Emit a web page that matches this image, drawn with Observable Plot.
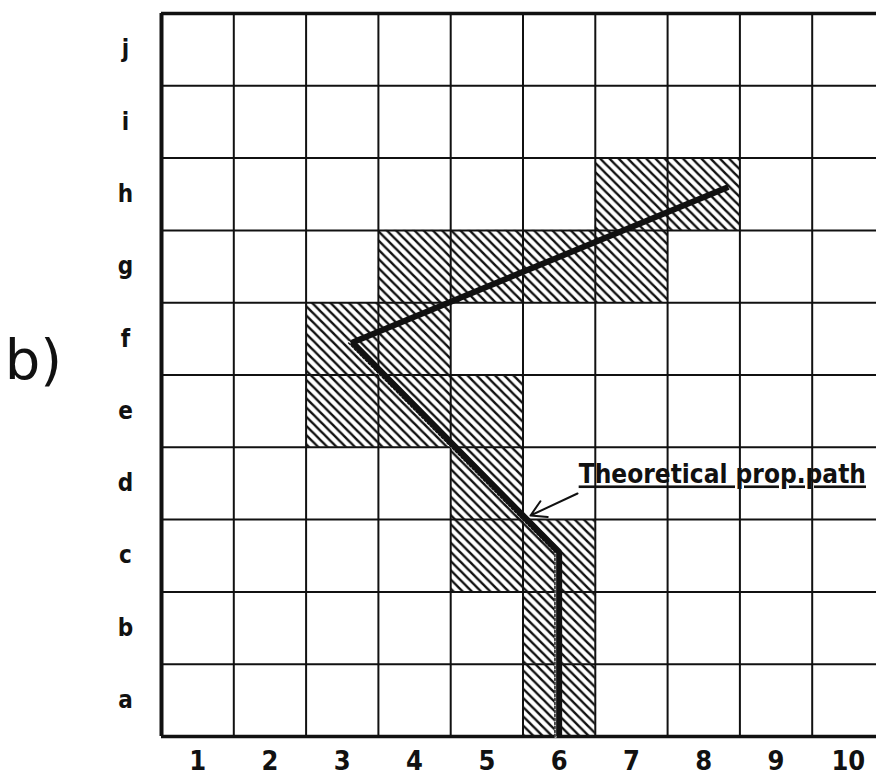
<!DOCTYPE html>
<html>
<head>
<meta charset="utf-8">
<script src="https://cdn.jsdelivr.net/npm/d3@7"></script>
<script src="https://cdn.jsdelivr.net/npm/@observablehq/plot@0.6"></script>
<style>
  html, body { margin: 0; padding: 0; background: #fff; overflow: hidden; }
  #chart svg { overflow: visible; }
</style>
</head>
<body>
<div id="chart"></div>
<script>
// ---- data ----
const rowLabels = ["a", "b", "c", "d", "e", "f", "g", "h", "i", "j"];
const colLabels = [1, 2, 3, 4, 5, 6, 7, 8, 9, 10];

// hatched cells (row letter, column number)
const hatchRow = ["a", "b", "c", "c", "d", "e", "e", "e", "f", "f", "g", "g", "g", "g", "h", "h"];
const hatchCol = [6, 6, 5, 6, 5, 3, 4, 5, 3, 4, 4, 5, 6, 7, 7, 8];

// actual path (x = column, y = row index with a = 1)
const pathX = [6.0, 6.0, 3.14, 8.34];
const pathY = [0.5, 3.05, 5.95, 8.10];

// theoretical path (lower part, drawn as dotted trace)
const theoX = [6.0, 6.0, 3.14];
const theoY = [0.5, 3.05, 5.95];

// annotation
const annotText = "Theoretical prop.path";
const annotX = [6.27];
const annotY = [4.0];
const arrowFrom = [6.254, 3.861];
const arrowTo = [5.604, 3.557];
const panelLabel = "b)";
const panelX = [-1.27];
const panelY = [5.69];

// ---- derived tables ----
const cells = hatchRow.map((r, i) => ({row: rowLabels.indexOf(r) + 1, col: hatchCol[i]}));
const pathPts = pathX.map((x, i) => ({x, y: pathY[i]}));
const theoPts = theoX.map((x, i) => ({x, y: theoY[i]}));
const vLines = colLabels.map(c => c - 0.5).concat([colLabels.length + 0.5]);
const hLines = rowLabels.map((r, i) => i + 0.5).concat([rowLabels.length + 0.5]);

const ink = "#111";
const font = "DejaVu Sans Condensed, DejaVu Sans, sans-serif";

const svg = Plot.plot({
  width: 876,
  height: 778,
  marginTop: 13,
  marginBottom: 42,
  marginLeft: 161,
  marginRight: 0,
  style: {fontFamily: font, background: "#fff", color: ink},
  x: {domain: [0.5, 10.5], range: [161, 884], axis: null},
  y: {domain: [0.5, 10.5], range: [736, 13], axis: null},
  marks: [
    Plot.rect(cells, {
      x1: d => d.col - 0.5, x2: d => d.col + 0.5,
      y1: d => d.row - 0.5, y2: d => d.row + 0.5,
      fill: "url(#hatch)"
    }),
    // inner grid
    Plot.ruleX(vLines, {y1: 0.5, y2: 10.5, stroke: ink, strokeWidth: 2}),
    Plot.ruleY(hLines, {x1: 0.5, x2: 10.5, stroke: ink, strokeWidth: 2}),
    // heavier outer frame (left, top, bottom)
    Plot.ruleX([vLines[0]], {y1: 0.5, y2: 10.5, stroke: ink, strokeWidth: 4}),
    Plot.ruleY([hLines[0], hLines[hLines.length - 1]], {x1: 0.5, x2: 10.5, stroke: ink, strokeWidth: 3.5}),
    // theoretical path: thin dotted trace beside the actual path
    Plot.line(theoPts, {x: "x", y: "y", stroke: "#fff", strokeWidth: 2.6, dx: -3.6, strokeLinejoin: "miter"}),
    Plot.line(theoPts, {x: "x", y: "y", stroke: ink, strokeWidth: 1.5, strokeDasharray: "2.2,1.8", dx: -4.2, strokeLinejoin: "miter"}),
    // actual path
    Plot.line(pathPts, {x: "x", y: "y", stroke: ink, strokeWidth: 6, strokeLinejoin: "miter", strokeLinecap: "butt"}),
    // annotation
    Plot.arrow([0], {
      x1: () => arrowFrom[0], y1: () => arrowFrom[1],
      x2: () => arrowTo[0], y2: () => arrowTo[1],
      stroke: ink, strokeWidth: 2, headLength: 14, bend: 0
    }),
    Plot.text([annotText], {
      x: () => annotX[0], y: () => annotY[0], text: d => d,
      textAnchor: "start", lineAnchor: "bottom", fontSize: 26, fontWeight: "bold",
      fill: ink, fontFamily: font
    }),
    Plot.text([panelLabel], {
      x: () => panelX[0], y: () => panelY[0], text: d => d,
      textAnchor: "middle", lineAnchor: "middle", fontSize: 56, fontWeight: "normal",
      fill: ink, fontFamily: "DejaVu Sans, sans-serif"
    }),
    // axes
    Plot.axisX({
      ticks: colLabels, tickSize: 0, tickPadding: 14, anchor: "bottom",
      fontSize: 27, fontWeight: "bold", fill: ink, label: null, tickFormat: d => String(d)
    }),
    Plot.axisY({
      ticks: rowLabels.map((r, i) => i + 1), tickSize: 0, tickPadding: 36, anchor: "left",
      textAnchor: "middle", fontSize: 24, fontWeight: "bold", fill: ink, label: null,
      tickFormat: d => rowLabels[d - 1]
    })
  ]
});

// hatch pattern
const defs = d3.select(svg).insert("defs", ":first-child");
const pat = defs.append("pattern")
  .attr("id", "hatch")
  .attr("patternUnits", "userSpaceOnUse")
  .attr("width", 9.2).attr("height", 9.2);
pat.append("rect").attr("width", 9.2).attr("height", 9.2).attr("fill", "#fff");
pat.append("path")
  .attr("d", "M-1,-1 L10.2,10.2 M-3,6.2 L3,12.2 M6.2,-3 L12.2,3")
  .attr("stroke", ink).attr("stroke-width", 2.4).attr("fill", "none");

// underline the annotation
d3.select(svg).selectAll("text")
  .filter(function () { return this.textContent === annotText; })
  .style("text-decoration", "underline");

document.getElementById("chart").appendChild(svg);
</script>
</body>
</html>
